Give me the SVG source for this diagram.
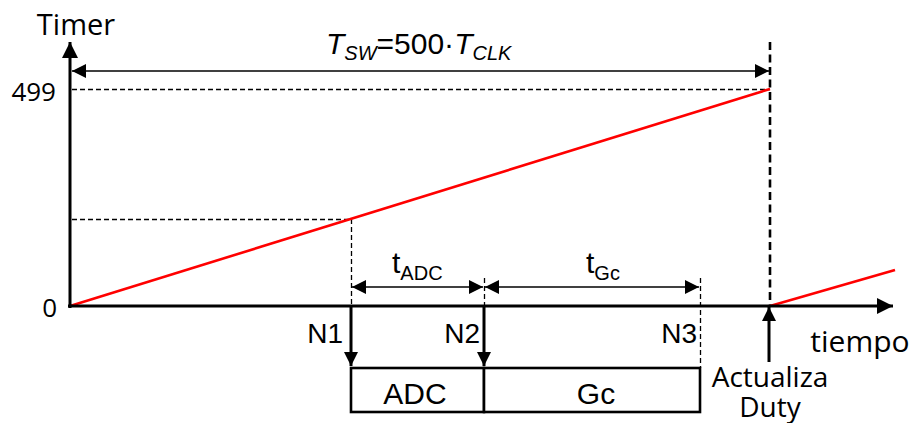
<svg xmlns="http://www.w3.org/2000/svg" width="914" height="423" viewBox="0 0 914 423">
  <style>
    .axis { stroke: #000; stroke-width: 3; fill: none; }
    .thin { stroke: #000; stroke-width: 1.6; fill: none; }
    .dash { stroke: #000; stroke-width: 1.3; stroke-dasharray: 5 3; fill: none; }
    .bigdash { stroke: #000; stroke-width: 2.6; stroke-dasharray: 8 4.5; fill: none; }
    .ramp { stroke: #ff0000; stroke-width: 2.6; fill: none; }
    .box { stroke: #000; stroke-width: 2.6; fill: #fff; }
    .cal { font-family: "Open Sans", "Noto Sans", sans-serif; fill: #000; }
    .ari { font-family: "Liberation Sans", Arial, sans-serif; fill: #000; }
  </style>
  <defs>
    <marker id="ahs" viewBox="0 0 10 10" refX="10" refY="5" markerWidth="16" markerHeight="14" markerUnits="userSpaceOnUse" orient="auto-start-reverse">
      <path d="M0,0 L10,5 L0,10 Z" fill="#000"/>
    </marker>
    <marker id="ahb" viewBox="0 0 10 10" refX="10" refY="5" markerWidth="18" markerHeight="16" markerUnits="userSpaceOnUse" orient="auto">
      <path d="M0,0 L10,5 L0,10 Z" fill="#000"/>
    </marker>
  </defs>

  <!-- guide lines -->
  <g id="guides">
    <line class="dash" x1="72" y1="89.5" x2="770" y2="89.5"/>
    <line class="dash" x1="72" y1="219.5" x2="351" y2="219.5"/>
    <line class="dash" x1="351.5" y1="219" x2="351.5" y2="306"/>
    <line class="dash" x1="484.5" y1="278" x2="484.5" y2="306"/>
    <line class="dash" x1="700.5" y1="278" x2="700.5" y2="368"/>
    <line class="bigdash" x1="770" y1="42" x2="770" y2="306"/>
  </g>

  <!-- timer ramp -->
  <g id="ramp">
    <line class="ramp" x1="70" y1="306" x2="770" y2="89"/>
    <line class="ramp" x1="770" y1="306" x2="895" y2="270"/>
  </g>

  <!-- axes -->
  <g id="axes">
    <line class="axis" x1="70" y1="308" x2="70" y2="42" marker-end="url(#ahb)"/>
    <line class="axis" x1="68" y1="306" x2="893" y2="306" marker-end="url(#ahb)"/>
    <text class="cal" x="76" y="35" font-size="29" text-anchor="middle">Timer</text>
    <text class="cal" x="860" y="352" font-size="30" text-anchor="middle">tiempo</text>
    <text class="cal" x="56" y="101" font-size="26" text-anchor="end">499</text>
    <text class="cal" x="57" y="317" font-size="26" text-anchor="end">0</text>
  </g>

  <!-- switching period -->
  <g id="period">
    <line class="thin" x1="72" y1="71" x2="769" y2="71" marker-start="url(#ahs)" marker-end="url(#ahs)"/>
    <text class="ari" x="326" y="54" font-size="30"><tspan font-style="italic">T</tspan><tspan font-style="italic" font-size="20" dy="6">SW</tspan><tspan dy="-6">=500·</tspan><tspan font-style="italic">T</tspan><tspan font-style="italic" font-size="20" dy="6">CLK</tspan></text>
  </g>

  <!-- intervals -->
  <g id="intervals">
    <line class="thin" x1="352" y1="287" x2="483" y2="287" marker-start="url(#ahs)" marker-end="url(#ahs)"/>
    <line class="thin" x1="485" y1="287" x2="699" y2="287" marker-start="url(#ahs)" marker-end="url(#ahs)"/>
    <text class="ari" x="392" y="273" font-size="30">t<tspan font-size="20" dy="7">ADC</tspan></text>
    <text class="ari" x="586" y="273" font-size="30">t<tspan font-size="20" dy="7">Gc</tspan></text>
  </g>

  <!-- event markers -->
  <g id="events">
    <line class="axis" x1="351" y1="306" x2="351" y2="366" marker-end="url(#ahs)"/>
    <line class="axis" x1="484" y1="306" x2="484" y2="366" marker-end="url(#ahs)"/>
    <line class="axis" x1="769" y1="362" x2="769" y2="307" marker-end="url(#ahs)"/>
    <text class="ari" x="343" y="343" font-size="28" text-anchor="end">N1</text>
    <text class="ari" x="480" y="343" font-size="28" text-anchor="end">N2</text>
    <text class="ari" x="697" y="343" font-size="28" text-anchor="end">N3</text>
    <text class="cal" x="770" y="387" font-size="28" text-anchor="middle">Actualiza</text>
    <text class="cal" x="770" y="417" font-size="28" text-anchor="middle">Duty</text>
  </g>

  <!-- task blocks -->
  <g id="adc">
    <rect class="box" x="351" y="368" width="133" height="44"/>
    <text class="ari" x="415" y="404" font-size="30" text-anchor="middle">ADC</text>
  </g>
  <g id="gc">
    <rect class="box" x="484" y="368" width="216" height="44"/>
    <text class="ari" x="596" y="404" font-size="30" text-anchor="middle">Gc</text>
  </g>
</svg>
